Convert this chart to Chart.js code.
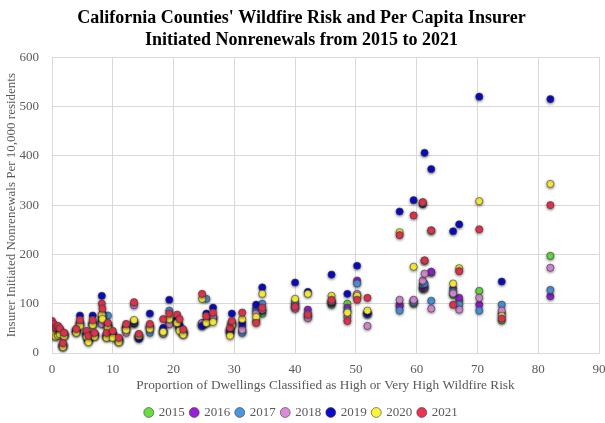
<!DOCTYPE html>
<html lang="en">
  <head>
    <meta charset="utf-8" />
    <script src="https://cdn.jsdelivr.net/npm/chart.js"></script>
    <title>Wildfire Risk and Nonrenewals</title>
    <style>
      body {
        margin: 0;
        padding: 0;
        background: #ffffff;
      }

      #wrap {
        width: 605px;
        height: 423px;
      }
    </style>
  </head>
  <body>
    <div id="wrap">
      <canvas id="myChart" width="605" height="423"></canvas>
    </div>

    <script>
      // Proportion of dwellings in high / very high risk, one entry per county
      var riskPct = [0.0, 0.3, 0.6, 1.0, 1.3, 1.8, 2.0, 4.0, 4.6, 5.7, 6.0, 6.7, 7.0, 8.2, 8.3,
        9.2, 9.0, 10.0, 11.0, 12.2, 13.5, 14.3, 16.1, 18.3, 19.3, 20.6, 21.0, 21.6, 24.7, 25.4,
        26.5, 29.3, 29.6, 31.3, 33.6, 34.6, 40.0, 42.1, 46.0, 48.6, 50.2, 51.9, 57.2, 59.5,
        61.0, 61.3, 62.4, 66.0, 67.0, 70.3, 74.0, 82.0];

      // Nonrenewals per 10,000 residents, same county order
      var y2015 = [48, 44, 40, 40, 42, 14, 36, 44, 58, 37, 26, 59, 36, 62, 71,
        54, 34, 36, 25, 50, 60, 33, 52, 44, 62, 64, 50, 40, 58, 62,
        70, 42, 58, 45, 65, 80, 95, 75, 98, 100, 116, 80, 98, 100,
        130, 131, 163, 118, 106, 126, 66, 197];
      var y2016 = [49, 45, 41, 41, 43, 15, 37, 45, 59, 38, 27, 60, 37, 63, 72,
        55, 35, 37, 26, 51, 61, 34, 53, 45, 63, 65, 52, 43, 60, 63,
        72, 44, 59, 55, 90, 86, 98, 88, 102, 92, 147, 82, 95, 106,
        133, 135, 165, 131, 112, 98, 80, 115];
      var y2017 = [50, 46, 42, 42, 44, 16, 38, 46, 60, 39, 28, 61, 37, 64, 74,
        76, 36, 38, 27, 52, 62, 34, 41, 46, 86, 66, 53, 41, 57, 110,
        73, 45, 60, 41, 85, 100, 104, 80, 104, 85, 141, 80, 86, 103,
        139, 141, 106, 125, 98, 86, 98, 128];
      var y2018 = [52, 47, 43, 44, 45, 17, 38, 46, 62, 40, 29, 59, 38, 59, 73,
        56, 36, 38, 27, 41, 97, 35, 54, 39, 59, 66, 54, 42, 61, 64,
        74, 46, 62, 47, 80, 88, 90, 71, 105, 73, 120, 55, 108, 108,
        147, 161, 90, 121, 88, 112, 86, 173];
      var y2019 = [55, 50, 46, 41, 48, 18, 40, 48, 76, 42, 30, 76, 39, 116, 80,
        58, 37, 40, 28, 53, 64, 29, 80, 51, 108, 70, 56, 44, 55, 80,
        92, 48, 80, 61, 98, 133, 143, 124, 159, 120, 177, 80, 287, 310,
        302, 406, 373, 247, 261, 520, 145, 515];
      var y2020 = [40, 36, 33, 35, 38, 12, 34, 41, 55, 33, 22, 57, 33, 78, 69,
        51, 31, 31, 22, 47, 67, 35, 49, 43, 69, 61, 45, 37, 110, 61,
        63, 35, 57, 69, 73, 120, 110, 120, 116, 82, 116, 86, 245, 175,
        305, 187, 248, 141, 172, 308, 75, 343];
      var y2021 = [65, 59, 51, 55, 50, 20, 41, 49, 67, 45, 35, 67, 41, 100, 90,
        61, 41, 45, 31, 59, 103, 39, 59, 69, 80, 78, 69, 48, 120, 75,
        82, 51, 65, 82, 61, 92, 94, 78, 108, 65, 108, 112, 239, 279,
        306, 188, 249, 98, 166, 251, 70, 300];

      var years = ["2015", "2016", "2017", "2018", "2019", "2020", "2021"];
      var yearColors = ["#66df3c", "#9a1ed8", "#4a94e0", "#d98ad8", "#0a0ac8", "#fbf23a", "#ea3450"];
      var yearValues = [y2015, y2016, y2017, y2018, y2019, y2020, y2021];

      var font = "'Liberation Serif', 'Times New Roman', serif";

      function toPoints(vals) {
        var pts = [];
        for (var i = 0; i < riskPct.length; i++) {
          pts.push({ x: riskPct[i], y: vals[i] });
        }
        return pts;
      }

      var datasets = [];
      for (var k = 0; k < years.length; k++) {
        datasets.push({
          label: years[k],
          data: toPoints(yearValues[k]),
          backgroundColor: yearColors[k],
          borderColor: "rgba(60, 60, 60, 0.6)",
          borderWidth: 1,
          pointRadius: 3.6,
          pointHoverRadius: 3.6,
          order: years.length - k // later years drawn on top
        });
      }

      // soft grey halo under the dots, like the original
      var dotShadow = {
        id: "dotShadow",
        beforeDatasetsDraw: function (chart) {
          var ctx = chart.ctx;
          ctx.save();
          ctx.shadowColor = "rgba(0, 0, 0, 0.5)";
          ctx.shadowBlur = 3;
          ctx.shadowOffsetX = 0;
          ctx.shadowOffsetY = 1;
        },
        afterDatasetsDraw: function (chart) {
          chart.ctx.restore();
        }
      };

      var config = {
        type: "scatter",
        data: { datasets: datasets },
        plugins: [dotShadow],
        options: {
          responsive: false,
          animation: false,
          events: [],
          layout: { padding: { left: 4, right: 6, top: 0, bottom: -6 } },
          plugins: {
            title: {
              display: true,
              text: [
                "California Counties' Wildfire Risk and Per Capita Insurer",
                "Initiated Nonrenewals from 2015 to 2021"
              ],
              color: "#000000",
              font: { family: font, size: 18, weight: "bold", lineHeight: 1.2 },
              padding: { top: 8, bottom: 6 }
            },
            legend: {
              position: "bottom",
              labels: {
                usePointStyle: true,
                pointStyle: "circle",
                boxWidth: 7,
                boxHeight: 7,
                padding: 6,
                color: "#595959",
                font: { family: font, size: 13 },
                sort: function (a, b) {
                  return a.datasetIndex - b.datasetIndex;
                }
              }
            },
            tooltip: { enabled: false }
          },
          scales: {
            x: {
              type: "linear",
              min: 0,
              max: 90,
              afterFit: function (scale) {
                scale.height = 47;
                scale.paddingRight = 0;
              },
              ticks: {
                stepSize: 10,
                color: "#595959",
                font: { family: font, size: 13 },
                padding: 9
              },
              grid: { color: "#d9d9d9", tickLength: 0 },
              border: { color: "#d9d9d9" },
              title: {
                display: true,
                text: "Proportion of Dwellings Classified as High or Very High Wildfire Risk",
                color: "#595959",
                font: { family: font, size: 13.3 },
                padding: { top: 0, bottom: 7 }
              }
            },
            y: {
              min: 0,
              max: 600,
              afterFit: function (scale) {
                scale.width = 48;
              },
              ticks: {
                stepSize: 100,
                color: "#595959",
                font: { family: font, size: 13 },
                padding: 13
              },
              grid: { color: "#d9d9d9", tickLength: 0 },
              border: { color: "#d9d9d9" },
              title: {
                display: true,
                text: "Insurer Initiated Nonrenewals Per 10,000 residents",
                color: "#595959",
                font: { family: font, size: 13 },
                padding: { top: 0, bottom: 0 }
              }
            }
          }
        }
      };

      var ctx = document.getElementById("myChart").getContext("2d");
      var myChart = new Chart(ctx, config);
    </script>
  </body>
</html>
